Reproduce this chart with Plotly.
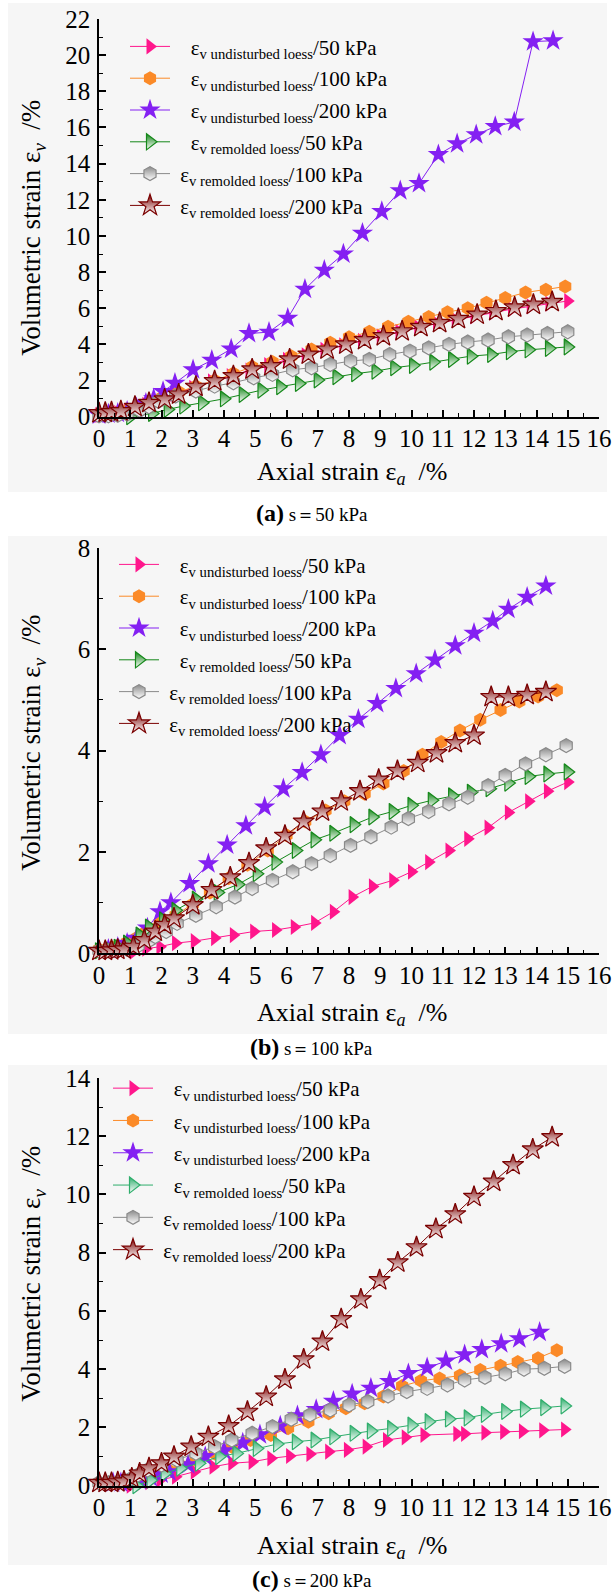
import plotly.graph_objects as go

W, H = 616, 1593

# ---------------- Panel (a) s = 50 kPa ----------------
a_und50_x = [0, 0.3, 0.6, 0.9, 1.2, 1.5, 1.8, 2.1, 2.4, 3.0, 3.6, 4.2, 4.8, 5.4, 6.0, 6.6, 7.2, 7.8, 8.4, 9.0, 9.6, 10.2, 10.8, 11.4, 12.0, 12.6, 13.2, 13.8, 14.4, 15.0]
a_und50_y = [0.1, 0.15, 0.2, 0.3, 0.45, 0.65, 0.85, 1.05, 1.25, 1.6, 1.95, 2.25, 2.55, 2.85, 3.15, 3.4, 3.7, 3.95, 4.2, 4.45, 4.7, 4.95, 5.15, 5.35, 5.55, 5.75, 5.95, 6.1, 6.25, 6.4]
a_und100_x = [0, 0.3, 0.6, 0.9, 1.3, 1.65, 2.0, 2.55, 3.1, 3.7, 4.3, 4.9, 5.55, 6.15, 6.8, 7.4, 8.0, 8.65, 9.25, 9.9, 10.55, 11.15, 11.8, 12.4, 13.0, 13.65, 14.3, 14.92]
a_und100_y = [0.15, 0.2, 0.25, 0.35, 0.55, 0.8, 1.05, 1.36, 1.69, 2.0, 2.39, 2.76, 3.02, 3.35, 3.72, 4.09, 4.4, 4.7, 4.97, 5.25, 5.52, 5.78, 6.0, 6.3, 6.57, 6.87, 7.02, 7.2]
a_und200_x = [0, 0.3, 0.6, 0.9, 1.2, 1.5, 1.75, 2.05, 2.43, 3.01, 3.61, 4.23, 4.8, 5.44, 6.04, 6.59, 7.21, 7.82, 8.43, 9.05, 9.64, 10.24, 10.86, 11.46, 12.07, 12.68, 13.29, 13.89, 14.53]
a_und200_y = [0.1, 0.15, 0.2, 0.3, 0.5, 0.75, 1.0, 1.4, 1.85, 2.6, 3.12, 3.75, 4.6, 4.68, 5.45, 7.05, 8.1, 9.0, 10.15, 11.35, 12.5, 12.9, 14.5, 15.1, 15.6, 16.05, 16.3, 20.75, 20.8]
a_rem50_x = [1.0, 1.7, 2.2, 2.7, 3.3, 4.0, 4.6, 5.2, 5.8, 6.4, 7.0, 7.6, 8.2, 8.85, 9.45, 10.05, 10.7, 11.3, 11.9, 12.55, 13.15, 13.75, 14.4, 15.0]
a_rem50_y = [0.0, 0.18, 0.4, 0.59, 0.77, 0.99, 1.23, 1.47, 1.66, 1.84, 2.03, 2.21, 2.38, 2.52, 2.71, 2.84, 3.02, 3.17, 3.35, 3.44, 3.6, 3.7, 3.78, 3.86]
a_rem100_x = [0, 0.3, 0.6, 0.9, 1.3, 1.6, 1.9, 2.45, 3.1, 3.7, 4.3, 4.95, 5.55, 6.2, 6.8, 7.4, 8.05, 8.65, 9.3, 9.95, 10.55, 11.2, 11.8, 12.45, 13.1, 13.7, 14.35, 15.0]
a_rem100_y = [0.05, 0.05, 0.08, 0.15, 0.35, 0.55, 0.85, 1.14, 1.42, 1.69, 1.88, 2.15, 2.34, 2.6, 2.71, 2.89, 3.08, 3.17, 3.44, 3.63, 3.81, 4.0, 4.13, 4.24, 4.42, 4.52, 4.6, 4.7]
a_rem200_x = [0, 0.2, 0.4, 0.7, 1.15, 1.6, 2.1, 2.55, 3.1, 3.7, 4.3, 4.9, 5.5, 6.1, 6.7, 7.3, 7.9, 8.5, 9.1, 9.7, 10.3, 10.9, 11.5, 12.1, 12.7, 13.3, 13.9, 14.5]
a_rem200_y = [0.2, 0.22, 0.25, 0.31, 0.55, 0.77, 0.96, 1.23, 1.66, 1.97, 2.25, 2.62, 2.8, 3.17, 3.44, 3.72, 4.0, 4.24, 4.46, 4.73, 4.97, 5.19, 5.41, 5.65, 5.85, 6.05, 6.2, 6.35]

# ---------------- Panel (b) s = 100 kPa ----------------
b_und50_x = [1.1, 1.5, 1.95, 2.45, 3.05, 3.7, 4.3, 4.95, 5.65, 6.25, 6.9, 7.5, 8.1, 8.75, 9.4, 10.0, 10.55, 11.2, 11.8, 12.45, 13.1, 13.75, 14.35, 15.0]
b_und50_y = [0.03, 0.09, 0.13, 0.2, 0.24, 0.3, 0.36, 0.43, 0.46, 0.52, 0.6, 0.82, 1.11, 1.32, 1.44, 1.61, 1.8, 2.03, 2.26, 2.48, 2.78, 3.0, 3.2, 3.38]
b_und100_x = [0, 0.3, 0.6, 0.9, 1.2, 1.4, 1.65, 1.95, 2.45, 3.0, 3.55, 4.15, 4.75, 5.4, 6.0, 6.6, 7.25, 7.85, 8.5, 9.1, 9.75, 10.35, 10.95, 11.55, 12.2, 12.85, 13.45, 14.05, 14.65]
b_und100_y = [0.08, 0.1, 0.15, 0.22, 0.3, 0.38, 0.48, 0.6, 0.75, 0.97, 1.2, 1.48, 1.75, 2.03, 2.33, 2.6, 2.82, 3.0, 3.15, 3.35, 3.6, 3.92, 4.17, 4.4, 4.61, 4.8, 4.97, 5.07, 5.19]
b_und200_x = [0, 0.3, 0.6, 0.9, 1.2, 1.55, 1.95, 2.3, 2.9, 3.5, 4.1, 4.7, 5.3, 5.9, 6.5, 7.1, 7.7, 8.3, 8.9, 9.5, 10.15, 10.75, 11.4, 12.0, 12.6, 13.1, 13.7, 14.3]
b_und200_y = [0.05, 0.08, 0.12, 0.2, 0.3, 0.5, 0.82, 1.0, 1.38, 1.77, 2.14, 2.52, 2.89, 3.25, 3.57, 3.92, 4.3, 4.62, 4.93, 5.23, 5.52, 5.79, 6.07, 6.32, 6.56, 6.79, 7.03, 7.25]
b_rem50_x = [0, 0.3, 0.6, 0.9, 1.3, 1.6, 2.05, 2.45, 3.1, 3.8, 4.45, 5.05, 5.65, 6.3, 6.9, 7.5, 8.15, 8.75, 9.4, 10.0, 10.65, 11.3, 11.9, 12.5, 13.1, 13.75, 14.35, 15.0]
b_rem50_y = [0.05, 0.08, 0.12, 0.2, 0.36, 0.52, 0.66, 0.85, 1.07, 1.2, 1.36, 1.57, 1.8, 2.03, 2.24, 2.37, 2.54, 2.69, 2.8, 2.92, 3.02, 3.11, 3.18, 3.25, 3.36, 3.49, 3.54, 3.58]
b_rem100_x = [0, 0.3, 0.6, 0.9, 1.25, 1.6, 1.8, 2.15, 2.5, 3.1, 3.75, 4.35, 4.9, 5.55, 6.2, 6.8, 7.4, 8.05, 8.7, 9.35, 9.9, 10.55, 11.2, 11.8, 12.45, 13.0, 13.65, 14.3, 14.95]
b_rem100_y = [0.05, 0.05, 0.06, 0.08, 0.15, 0.25, 0.33, 0.43, 0.59, 0.75, 0.92, 1.11, 1.28, 1.44, 1.61, 1.77, 1.93, 2.13, 2.3, 2.49, 2.66, 2.8, 2.95, 3.08, 3.31, 3.51, 3.74, 3.92, 4.1]
b_rem200_x = [0, 0.2, 0.4, 0.6, 0.8, 1.1, 1.45, 1.8, 2.1, 2.4, 3.0, 3.6, 4.2, 4.8, 5.35, 5.95, 6.55, 7.15, 7.75, 8.35, 8.95, 9.55, 10.2, 10.8, 11.4, 12.0, 12.55, 13.1, 13.7, 14.3]
b_rem200_y = [0.05, 0.05, 0.06, 0.07, 0.08, 0.13, 0.26, 0.43, 0.56, 0.69, 0.95, 1.25, 1.5, 1.78, 2.07, 2.32, 2.6, 2.8, 3.0, 3.2, 3.43, 3.6, 3.76, 3.95, 4.15, 4.3, 5.06, 5.06, 5.1, 5.16]

# ---------------- Panel (c) s = 200 kPa ----------------
c_und50_x = [1.0, 1.3, 1.6, 1.95, 2.45, 3.05, 3.65, 4.25, 4.9, 5.5, 6.1, 6.75, 7.35, 7.95, 8.55, 9.2, 9.8, 10.4, 11.45, 11.7, 12.35, 12.95, 13.55, 14.2, 14.9]
c_und50_y = [0.0, 0.06, 0.12, 0.2, 0.31, 0.48, 0.65, 0.77, 0.82, 0.94, 1.02, 1.09, 1.17, 1.23, 1.34, 1.57, 1.66, 1.74, 1.78, 1.78, 1.82, 1.85, 1.87, 1.9, 1.93]
c_und100_x = [0, 0.3, 0.6, 0.9, 1.2, 1.5, 1.8, 2.2, 2.6, 3.1, 3.7, 4.25, 4.85, 5.5, 6.05, 6.7, 7.35, 7.9, 8.5, 9.1, 9.7, 10.3, 10.9, 11.55, 12.2, 12.85, 13.4, 14.05, 14.65]
c_und100_y = [0.1, 0.1, 0.1, 0.12, 0.18, 0.28, 0.4, 0.55, 0.7, 0.88, 1.11, 1.34, 1.57, 1.74, 1.97, 2.2, 2.49, 2.66, 2.83, 3.06, 3.42, 3.6, 3.68, 3.78, 3.97, 4.12, 4.25, 4.38, 4.65]
c_und200_x = [0, 0.2, 0.45, 0.7, 1.0, 1.3, 1.65, 2.0, 2.25, 2.85, 3.4, 4.0, 4.6, 5.15, 5.8, 6.35, 6.95, 7.5, 8.1, 8.7, 9.3, 9.9, 10.5, 11.1, 11.7, 12.25, 12.87, 13.45, 14.1]
c_und200_y = [0.1, 0.1, 0.1, 0.1, 0.12, 0.18, 0.28, 0.4, 0.48, 0.72, 1.0, 1.2, 1.47, 1.75, 2.05, 2.4, 2.62, 2.9, 3.15, 3.35, 3.58, 3.85, 4.05, 4.28, 4.5, 4.68, 4.88, 5.05, 5.27]
c_rem50_x = [1.2, 1.65, 2.1, 2.6, 3.2, 3.85, 4.4, 5.05, 5.7, 6.3, 6.9, 7.5, 8.15, 8.7, 9.35, 10.0, 10.55, 11.2, 11.8, 12.35, 13.0, 13.6, 14.25, 14.9]
c_rem50_y = [0.0, 0.19, 0.42, 0.6, 0.77, 1.0, 1.11, 1.28, 1.43, 1.51, 1.57, 1.68, 1.8, 1.88, 1.97, 2.08, 2.2, 2.29, 2.33, 2.45, 2.55, 2.63, 2.68, 2.74]
c_rem100_x = [0, 0.3, 0.6, 0.95, 1.25, 1.55, 2.0, 2.5, 3.1, 3.7, 4.25, 4.9, 5.55, 6.15, 6.75, 7.4, 8.0, 8.6, 9.25, 9.85, 10.5, 11.15, 11.7, 12.35, 13.0, 13.6, 14.25, 14.9]
c_rem100_y = [0.1, 0.1, 0.12, 0.2, 0.37, 0.54, 0.71, 0.88, 1.11, 1.34, 1.57, 1.8, 2.03, 2.28, 2.43, 2.6, 2.77, 2.89, 3.08, 3.23, 3.34, 3.46, 3.63, 3.72, 3.84, 4.0, 4.03, 4.1]
c_rem200_x = [0, 0.2, 0.4, 0.6, 0.8, 1.05, 1.3, 1.6, 2.0, 2.4, 2.95, 3.5, 4.15, 4.75, 5.35, 5.95, 6.55, 7.15, 7.75, 8.38, 8.98, 9.56, 10.16, 10.78, 11.4, 12.0, 12.63, 13.25, 13.88, 14.5]
c_rem200_y = [0.1, 0.1, 0.1, 0.12, 0.15, 0.25, 0.42, 0.6, 0.77, 1.0, 1.34, 1.68, 2.05, 2.54, 3.06, 3.65, 4.34, 4.95, 5.72, 6.4, 7.06, 7.67, 8.19, 8.82, 9.32, 9.92, 10.44, 11.01, 11.55, 11.97]

series_names = [
    "\u00a0\u00a0\u00a0ε<sub>v undisturbed loess</sub>/50 kPa",
    "\u00a0\u00a0\u00a0ε<sub>v undisturbed loess</sub>/100 kPa",
    "\u00a0\u00a0\u00a0ε<sub>v undisturbed loess</sub>/200 kPa",
    "\u00a0\u00a0\u00a0ε<sub>v remolded loess</sub>/50 kPa",
    "\u00a0ε<sub>v remolded loess</sub>/100 kPa",
    "\u00a0ε<sub>v remolded loess</sub>/200 kPa",
]
y_ranges = [22, 8, 14]
captions = ["<b>(a)</b><span style='font-size:19px'> s＝50 kPa</span>",
            "<b>(b)</b><span style='font-size:19px'> s＝100 kPa</span>",
            "<b>(c)</b><span style='font-size:19px'> s＝200 kPa</span>"]

panels = [
    [(a_und50_x, a_und50_y), (a_und100_x, a_und100_y), (a_und200_x, a_und200_y),
     (a_rem50_x, a_rem50_y), (a_rem100_x, a_rem100_y), (a_rem200_x, a_rem200_y)],
    [(b_und50_x, b_und50_y), (b_und100_x, b_und100_y), (b_und200_x, b_und200_y),
     (b_rem50_x, b_rem50_y), (b_rem100_x, b_rem100_y), (b_rem200_x, b_rem200_y)],
    [(c_und50_x, c_und50_y), (c_und100_x, c_und100_y), (c_und200_x, c_und200_y),
     (c_rem50_x, c_rem50_y), (c_rem100_x, c_rem100_y), (c_rem200_x, c_rem200_y)],
]

FONT = "Times New Roman, Liberation Serif, DejaVu Serif, serif"
PINK, ORANGE, PURPLE = "#ff168c", "#fb8a28", "#8420f2"
GREEN_AB, GREEN_C = "#15881a", "#2fae6c"
GREY, DRED = "#8a8a8a", "#7a0000"

def styles(panel):
    green = GREEN_C if panel == 2 else GREEN_AB
    return [
        dict(symbol="triangle-right", color=PINK, size=14, half=False),
        dict(symbol="hexagon", color=ORANGE, size=14, half=False),
        dict(symbol="star", color=PURPLE, size=16, half=False),
        dict(symbol="triangle-right", color=green, size=14, half=True),
        dict(symbol="hexagon", color=GREY, size=14, half=True),
        dict(symbol="star", color=DRED, size=16, half=True),
    ]

# pixel layout (from top of page)
x_left, x_right = 99, 599
plot_px = [(19.0, 416.7), (548.0, 953.3), (1078.0, 1485.7)]
legend_first = [42, 560, 1084]
legend_marker_x = [150, 139, 133]
legend_gap = [31.5, 31.5, 32]
ytitle_shift = [10, -8, -8]
xtitle_y = [473, 1014, 1547]
caption_y = [513, 1047, 1579]
bg_px = [(3, 492), (536, 1034), (1065, 1565)]

fig = go.Figure()
layout = dict(
    width=W, height=H, margin=dict(l=0, r=0, t=0, b=0, autoexpand=False),
    paper_bgcolor="white", plot_bgcolor="rgba(0,0,0,0)",
    font=dict(family=FONT, color="black"),
    showlegend=True, shapes=[], annotations=[],
)

def py(p):
    return 1 - p / H

for i in range(3):
    xa = "x" if i == 0 else f"x{i+1}"
    ya = "y" if i == 0 else f"y{i+1}"
    leg = "legend" if i == 0 else f"legend{i+1}"
    st = styles(i)
    for j, (xs, ys) in enumerate(panels[i]):
        s = st[j]
        marker = dict(symbol=s["symbol"], size=s["size"], color=s["color"],
                      line=dict(color=s["color"], width=1.2 if s["half"] else 0))
        if s["half"]:
            marker["gradient"] = dict(type="vertical", color="white")
        fig.add_trace(go.Scatter(
            x=xs, y=ys, mode="lines+markers", name=series_names[j],
            line=dict(color=s["color"], width=1), marker=marker,
            xaxis=xa, yaxis=ya, legend=leg, legendgroup=f"p{i}s{j}",
            cliponaxis=False,
        ))
    top, bot = plot_px[i]
    axis_common = dict(showline=True, linecolor="black", linewidth=1.5, showgrid=False,
                       zeroline=False, ticks="inside", tickcolor="black", tickwidth=1.5,
                       ticklen=7, automargin=False,
                       tickfont=dict(family=FONT, size=25, color="black"))
    layout[f"xaxis{'' if i == 0 else i+1}"] = dict(
        axis_common, domain=[x_left / W, x_right / W], range=[0, 16], dtick=1, tick0=0,
        anchor=ya, ticklabelstandoff=-1,
        minor=dict(dtick=0.5, ticks="inside", ticklen=4, tickwidth=1.2, tickcolor="black"),
    )
    layout[f"yaxis{'' if i == 0 else i+1}"] = dict(
        axis_common, domain=[py(bot), py(top)], range=[0, y_ranges[i]], dtick=2, tick0=0,
        anchor=xa, ticklabelstandoff=2,
        minor=dict(dtick=1, ticks="inside", ticklen=4, tickwidth=1.2, tickcolor="black"),
    )
    gap = legend_gap[i]
    layout[leg] = dict(
        x=(legend_marker_x[i] - 25) / W, xanchor="left",
        y=py(legend_first[i] - gap / 2), yanchor="top",
        bgcolor="rgba(0,0,0,0)", borderwidth=0, itemwidth=40,
        font=dict(family=FONT, size=21, color="black"),
        tracegroupgap=max(gap - 30, 0), traceorder="grouped",
    )
    b0, b1 = bg_px[i]
    layout["shapes"].append(dict(type="rect", xref="paper", yref="paper", layer="below",
                                 x0=8 / W, x1=607 / W, y0=py(b1), y1=py(b0),
                                 fillcolor="#f6f6f6", line=dict(width=0)))
    layout["annotations"].append(dict(
        text="Volumetric strain ε<sub><i>v</i></sub>  /%", textangle=-90,
        xref="paper", yref="paper", x=33 / W, y=py((top + bot) / 2 + ytitle_shift[i]),
        xanchor="center", yanchor="middle", showarrow=False,
        font=dict(family=FONT, size=27, color="black")))
    layout["annotations"].append(dict(
        text="Axial strain ε<sub><i>a</i></sub>  /%",
        xref="paper", yref="paper", x=352 / W, y=py(xtitle_y[i]),
        xanchor="center", yanchor="middle", showarrow=False,
        font=dict(family=FONT, size=26, color="black")))
    layout["annotations"].append(dict(
        text=captions[i], xref="paper", yref="paper", x=312 / W, y=py(caption_y[i]),
        xanchor="center", yanchor="middle", showarrow=False,
        font=dict(family=FONT, size=24, color="black")))

fig.update_layout(**layout)
fig.write_html("out.html")
